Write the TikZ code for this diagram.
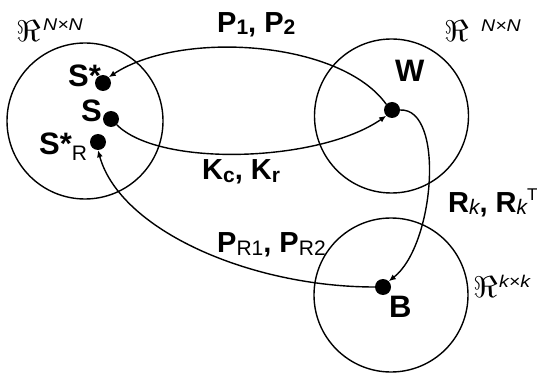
\documentclass[tikz,border=0pt]{standalone}
\usepackage{fontspec}
\setmainfont{Liberation Sans}
\usetikzlibrary{arrows.meta}
\newcommand{\bigf}{\fontsize{31}{31}\selectfont}
\newcommand{\labf}{\fontsize{29}{29}\selectfont}
\newcommand{\subf}{\fontsize{21}{21}\selectfont}
\newcommand{\supf}{\fontsize{17}{17}\selectfont}
\newcommand{\frR}{\scalebox{3.4}[3.0]{$\Re$}}
\newcommand{\wide}[1]{\scalebox{1.15}[1]{#1}}
\begin{document}
\begin{tikzpicture}[x=1pt,y=-1pt,
  region/.style={draw,line width=1.4pt},
  dotnode/.style={circle,fill=black,inner sep=0pt,minimum size=16pt},
  lbl/.style={anchor=base west,inner sep=0pt,font=\bigf\bfseries},
  clbl/.style={anchor=base west,inner sep=0pt,font=\labf\bfseries},
  sp/.style={anchor=base west,inner sep=0pt},
  conn/.style={line width=1.4pt,-{Latex[length=7pt,width=6pt]}}]
\useasboundingbox (0,0) rectangle (546,374);
% regions
\draw[region] (85,121) circle (78);
\draw[region] (391.5,116) circle (77);
\draw[region] (391,295) circle (77);
% space labels
\node[sp] (reL) at (16,42) {\frR};
\node[sp] (supL) at (43,31) {\supf\itshape\wide{N×N}};
\node[sp] (reW) at (444,42) {\frR};
\node[sp] (supW) at (481,32) {\supf\itshape\wide{N×N}};
\node[sp] (reB) at (473,297) {\frR};
\node[sp] (supB) at (499,287) {\supf\itshape\wide{k×k}};
% dots
\node[dotnode] (Sstar) at (103,83) {};
\node[dotnode] (S) at (111,119) {};
\node[dotnode] (SR) at (98,142) {};
\node[dotnode] (W) at (392,110) {};
\node[dotnode] (B) at (383,287) {};
% element labels
\node[lbl] (tSstar) at (68,87) {S*};
\node[lbl] (tS) at (81,122) {S};
\node[lbl] (tSR) at (39,155) {S*\raisebox{-6pt}{\subf\mdseries R}};
\node[lbl] (tW) at (395,82) {W};
\node[lbl] (tB) at (389,317) {B};
% connector labels
\node[clbl] (lP) at (217,33) {P\raisebox{-2pt}{\subf 1}, P\raisebox{-2pt}{\subf 2}};
\node[clbl] (lK) at (202,180) {K\raisebox{-2pt}{\subf c}, K\raisebox{-2pt}{\subf r}};
\node[clbl] (lPR) at (217,252) {P\raisebox{-3pt}{\subf\mdseries R1}, P\raisebox{-3pt}{\subf\mdseries R2}};
\node[clbl] (lR) at (448,212) {R\raisebox{-2pt}{\subf\mdseries\itshape k}, R\raisebox{-2pt}{\subf\mdseries\itshape k}\raisebox{12pt}{\supf\mdseries T}};
% connectors
\draw[conn] (W.north west) .. controls (340,40) and (180,30) .. (Sstar.north east);
\draw[conn] (S.south east) .. controls (160,168) and (320,162) .. (W.south west);
\draw[conn] (W.east) .. controls (445,108) and (435,245) .. (B.north east);
\draw[conn] (B.west) .. controls (250,287) and (120,230) .. (SR.south);
\end{tikzpicture}
\end{document}
